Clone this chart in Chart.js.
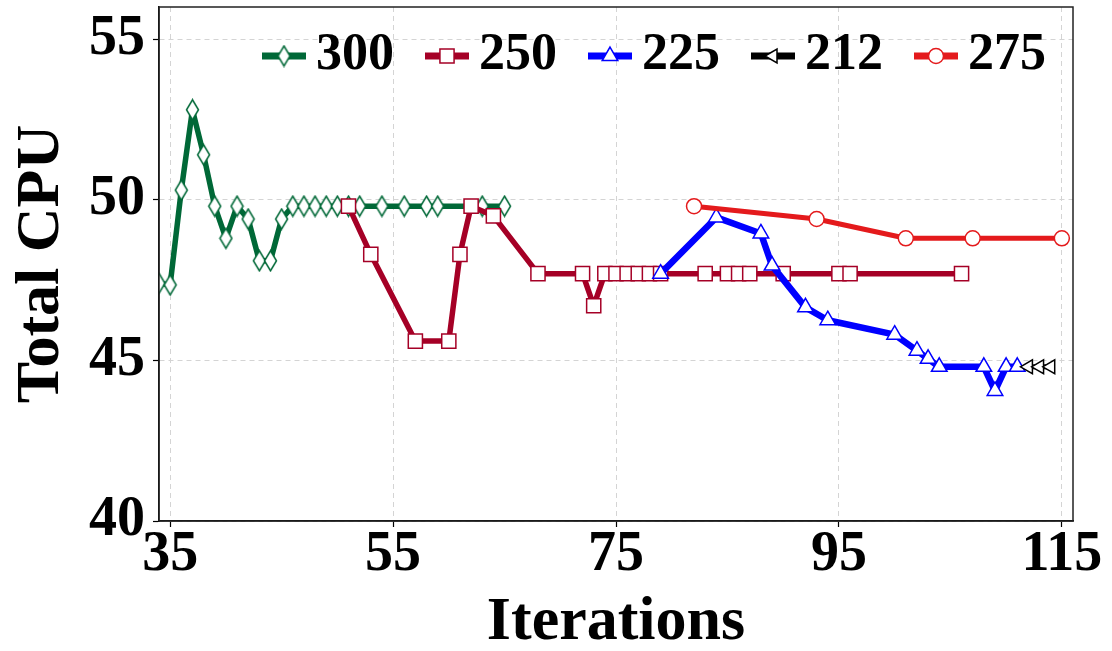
<!DOCTYPE html>
<html>
<head>
<meta charset="utf-8">
<script src="https://cdn.jsdelivr.net/npm/chart.js@4/dist/chart.umd.min.js"></script>
<style>
  html, body { margin: 0; padding: 0; background: #fff; }
</style>
</head>
<body>
<canvas id="myChart" width="1112" height="651"></canvas>
<script>
// values
const series_names = ["300", "250", "225", "212", "275"];

const x_300 = [34, 35, 36, 37, 38, 39, 40, 41, 42, 43, 44, 45, 46, 47, 48, 49, 50, 51, 52, 54, 56, 58, 59, 63, 65];
const y_300 = [47.4, 47.35, 50.3, 52.8, 51.4, 49.8, 48.8, 49.8, 49.4, 48.1, 48.1, 49.4, 49.8, 49.8, 49.8, 49.8, 49.8, 49.8, 49.8, 49.8, 49.8, 49.8, 49.8, 49.8, 49.8];

const x_250 = [51, 53, 57, 60, 61, 62, 64, 68, 72, 73, 74, 75, 76, 77, 78, 79, 83, 85, 86, 87, 90, 95, 96, 106];
const y_250 = [49.8, 48.3, 45.6, 45.6, 48.3, 49.8, 49.5, 47.7, 47.7, 46.7, 47.7, 47.7, 47.7, 47.7, 47.7, 47.7, 47.7, 47.7, 47.7, 47.7, 47.7, 47.7, 47.7, 47.7];

const x_225 = [79, 84, 88, 89, 92, 94, 100, 102, 103, 104, 108, 109, 110, 111];
const y_225 = [47.7, 49.45, 48.95, 47.95, 46.65, 46.25, 45.8, 45.3, 45.05, 44.8, 44.8, 44.05, 44.8, 44.8];

const x_212 = [112, 113, 114];
const y_212 = [44.8, 44.8, 44.8];

const x_275 = [82, 93, 101, 107, 115];
const y_275 = [49.8, 49.4, 48.8, 48.8, 48.8];

const x_ticks = [35, 55, 75, 95, 115];
const y_ticks = [40, 45, 50, 55];

const colors = ["#006837", "#a50026", "#0000ff", "#000000", "#e41a1c"];
const line_widths = [5.5, 5.5, 6.5, 5, 5];

// thin diamond marker (matplotlib 'd')
const diamond = document.createElement("canvas");
diamond.width = 15; diamond.height = 23;
{
  const c = diamond.getContext("2d");
  c.beginPath();
  c.moveTo(7.5, 1.5); c.lineTo(13.5, 11.5); c.lineTo(7.5, 21.5); c.lineTo(1.5, 11.5);
  c.closePath();
  c.fillStyle = "#fff"; c.fill();
  c.lineWidth = 1.5; c.strokeStyle = colors[0]; c.stroke();
}

const markers = [
  {pointStyle: diamond, radius: 8, rotation: 0},
  {pointStyle: "rect", radius: 10, rotation: 0},
  {pointStyle: "triangle", radius: 9, rotation: 0},
  {pointStyle: "triangle", radius: 8, rotation: -90},
  {pointStyle: "circle", radius: 7.5, rotation: 0}
];

// legend icons: short line with the marker on it
const make_icon = (i) => {
  const cv = document.createElement("canvas");
  cv.width = 64; cv.height = 26;
  const c = cv.getContext("2d");
  c.strokeStyle = colors[i];
  c.lineWidth = 7;
  c.beginPath(); c.moveTo(20, 13); c.lineTo(64, 13); c.stroke();
  const m = markers[i];
  if (typeof m.pointStyle !== "string") {
    c.drawImage(m.pointStyle, 42 - m.pointStyle.width / 2, 13 - m.pointStyle.height / 2);
  } else {
    c.fillStyle = "#fff";
    c.lineWidth = 1.5;
    Chart.helpers.drawPoint(c, {pointStyle: m.pointStyle, radius: m.radius, rotation: m.rotation, borderWidth: 1.5}, 42, 13);
  }
  return cv;
};

const xs = [x_300, x_250, x_225, x_212, x_275];
const ys = [y_300, y_250, y_225, y_212, y_275];

const datasets = series_names.map((name, i) => ({
  label: name,
  data: xs[i].map((x, j) => ({x: x, y: ys[i][j]})),
  borderColor: colors[i],
  borderWidth: line_widths[i],
  borderJoinStyle: "round",
  pointStyle: markers[i].pointStyle,
  pointRadius: markers[i].radius,
  pointRotation: markers[i].rotation,
  pointBackgroundColor: "#fff",
  pointBorderColor: colors[i],
  pointBorderWidth: 1.5,
  tension: 0,
  clip: 0,
  order: 5 - i
}));

const icons = series_names.map((n, i) => make_icon(i));

// legend sits inside the plot: it only takes a few px in the layout, then gets room to draw
const legend_inside = {
  id: "legend_inside",
  afterLayout(chart) {
    const lg = chart.legend;
    if (lg) { lg.height = 100; lg.bottom = lg.top + 100; }
  }
};

const frame = {
  id: "frame",
  afterDraw(chart) {
    const {ctx, chartArea: a} = chart;
    ctx.save();
    ctx.strokeStyle = "#222";
    ctx.lineWidth = 1.5;
    ctx.strokeRect(a.left, a.top, a.right - a.left, a.bottom - a.top);
    ctx.restore();
  }
};

Chart.defaults.font.family = "'Liberation Serif', serif";
Chart.defaults.font.weight = "bold";
Chart.defaults.color = "#000";

new Chart(document.getElementById("myChart"), {
  type: "line",
  data: {datasets: datasets},
  options: {
    responsive: false,
    animation: false,
    layout: {autoPadding: false, padding: {top: 3, right: 39, bottom: 0, left: 0}},
    plugins: {
      tooltip: {enabled: false},
      legend: {
        position: "top",
        align: "end",
        maxHeight: 4,
        labels: {
          usePointStyle: true,
          pointStyleWidth: 32,
          padding: 27,
          color: "#000",
          font: {size: 52, weight: "bold", lineHeight: 1},
          sort: (a, b) => a.datasetIndex - b.datasetIndex,
          generateLabels: (chart) => {
            const items = Chart.defaults.plugins.legend.labels.generateLabels(chart);
            items.forEach((it) => { it.pointStyle = icons[it.datasetIndex]; it.rotation = 0; });
            return items;
          }
        }
      }
    },
    scales: {
      x: {
        type: "linear",
        min: 34,
        max: 116,
        afterBuildTicks: (scale) => { scale.ticks = x_ticks.map(v => ({value: v})); },
        afterFit: (scale) => { scale.height = 130; scale.paddingLeft = 0; scale.paddingRight = 0; },
        grid: {color: "#d4d4d4", lineWidth: 1, tickLength: 6, tickColor: "#000", tickWidth: 1.2},
        border: {color: "#000", width: 1.5, dash: [5, 4]},
        ticks: {padding: 1, font: {size: 56, lineHeight: 1}, color: "#000", maxRotation: 0},
        title: {display: true, text: "Iterations", font: {size: 62, lineHeight: 1}, padding: {top: 0, bottom: -3}, color: "#000"}
      },
      y: {
        min: 40,
        max: 56,
        afterBuildTicks: (scale) => { scale.ticks = y_ticks.map(v => ({value: v})); },
        afterFit: (scale) => { scale.width = 159; scale.paddingTop = 0; scale.paddingBottom = 0; },
        grid: {color: "#d4d4d4", lineWidth: 1, tickLength: 6, tickColor: "#000", tickWidth: 1.2},
        border: {color: "#000", width: 1.5, dash: [5, 4]},
        ticks: {padding: 8, font: {size: 56, lineHeight: 1}, color: "#000"},
        title: {display: true, text: "Total CPU", font: {size: 62, lineHeight: 1}, padding: {top: 11, bottom: 0}, color: "#000"}
      }
    }
  },
  plugins: [legend_inside, frame]
});
</script>
</body>
</html>
